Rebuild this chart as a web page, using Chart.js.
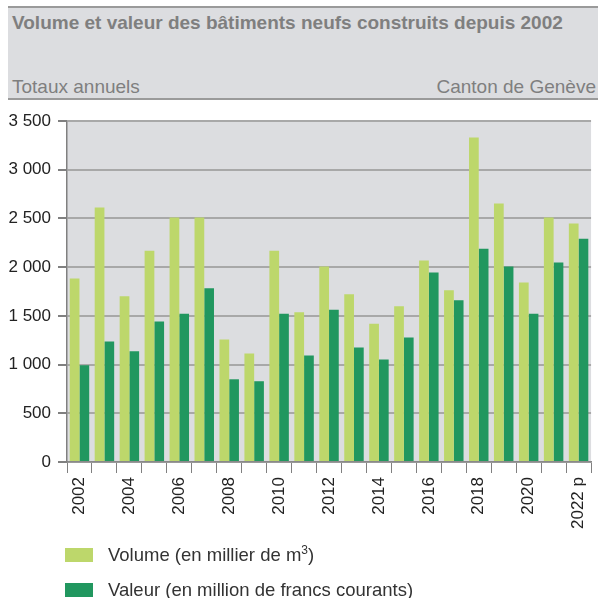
<!DOCTYPE html>
<html>
<head>
<meta charset="utf-8">
<script src="https://cdn.jsdelivr.net/npm/chart.js@4"></script>
<style>
  html, body { margin: 0; padding: 0; overflow: hidden; background: #fff; }
  body { width: 598px; height: 598px; position: relative; font-family: "Liberation Sans", Arial, sans-serif; }
  #wrap { position: absolute; left: 0; top: 0; width: 603px; height: 598px; }
  .entete { position: absolute; left: 8px; top: 6px; width: 590px; height: 90px;
            background: #dcdde0; border-top: 2px solid #9a9a9a; border-bottom: 2px solid #9a9a9a; }
  .titre { position: absolute; left: 4px; top: 4px; font-weight: bold; font-size: 19px; color: #7f7f7f; white-space: nowrap; }
  .sous { position: absolute; top: 68px; font-size: 19px; color: #7f7f7f; white-space: nowrap; }
  .legende { position: absolute; left: 65px; font-size: 18.5px; color: #333; white-space: nowrap; }
  .legende span { display: inline-block; width: 28px; height: 14px; margin-right: 15px; vertical-align: -1px; }
  .legende sup { font-size: 12px; line-height: 0; vertical-align: 7px; }
</style>
</head>
<body>
<div class="entete">
  <div class="titre">Volume et valeur des bâtiments neufs construits depuis 2002</div>
  <div class="sous" style="left:4px">Totaux annuels</div>
  <div class="sous" style="right:2px">Canton de Genève</div>
</div>
<div id="wrap"><canvas id="graphique" width="603" height="598"></canvas></div>
<div class="legende" style="top:544px"><span style="background:#bdd76b"></span>Volume (en millier de m<sup>3</sup>)</div>
<div class="legende" style="top:579px"><span style="background:#21975f"></span>Valeur (en million de francs courants)</div>
<script>
// années (2022 provisoire)
const annees = ['2002', '2003', '2004', '2005', '2006', '2007', '2008', '2009', '2010', '2011',
  '2012', '2013', '2014', '2015', '2016', '2017', '2018', '2019', '2020', '2021', '2022 p'];

// volume en milliers de m3
const volume = [1884, 2613, 1702, 2168, 2510, 2510, 1257, 1113, 2168, 1538,
  2007, 1723, 1418, 1599, 2068, 1764, 3330, 2654, 1842, 2510, 2449];

// valeur en millions de francs courants
const valeur = [993, 1236, 1137, 1442, 1521, 1784, 849, 829, 1521, 1092,
  1562, 1175, 1051, 1277, 1945, 1661, 2188, 2007, 1521, 2048, 2291];

const yTicks = [0, 500, 1000, 1500, 2000, 2500, 3000, 3500];

// fond gris de la zone du graphique
const fondGris = {
  id: 'fondGris',
  beforeDraw(chart) {
    const { ctx, chartArea: a } = chart;
    ctx.save();
    ctx.fillStyle = '#dcdde0';
    ctx.fillRect(a.left, a.top, a.right - a.left, a.bottom - a.top);
    ctx.restore();
  }
};

const police = { family: '"Liberation Sans", Arial, sans-serif', size: 17 };

new Chart(document.getElementById('graphique'), {
  type: 'bar',
  data: {
    labels: annees,
    datasets: [{
      label: 'Volume (en millier de m³)',
      data: volume,
      backgroundColor: '#bdd76b',
      borderWidth: 0,
      categoryPercentage: 0.78,
      barPercentage: 1
    }, {
      label: 'Valeur (en million de francs courants)',
      data: valeur,
      backgroundColor: '#21975f',
      borderWidth: 0,
      categoryPercentage: 0.78,
      barPercentage: 1
    }]
  },
  options: {
    responsive: false,
    animation: false,
    layout: { padding: { top: 121, bottom: 56, left: 0, right: 1 } },
    plugins: {
      legend: { display: false },
      tooltip: { enabled: false }
    },
    scales: {
      x: {
        offset: true,
        afterFit: s => { s.height = 80; },
        grid: { offset: true, drawOnChartArea: false, tickLength: 11, color: '#808080', lineWidth: 1 },
        border: { color: '#8a8a8a', width: 1.5 },
        ticks: {
          autoSkip: false,
          maxRotation: 90,
          minRotation: 90,
          padding: 4,
          color: '#222',
          font: police,
          callback: (v, i) => (i % 2 === 0 ? annees[i] : '')
        }
      },
      y: {
        min: 0,
        max: 3500,
        afterFit: s => { s.width = 67; },
        afterBuildTicks: s => { s.ticks = yTicks.map(v => ({ value: v })); },
        grid: { color: '#a8a8a8', lineWidth: 2, tickColor: '#808080', tickLength: 9 },
        border: { color: '#808080', width: 1.5 },
        ticks: {
          padding: 7,
          color: '#222',
          font: police,
          callback: v => String(v).replace(/\B(?=(\d{3})+(?!\d))/g, ' ')
        }
      }
    }
  },
  plugins: [fondGris]
});
</script>
</body>
</html>
